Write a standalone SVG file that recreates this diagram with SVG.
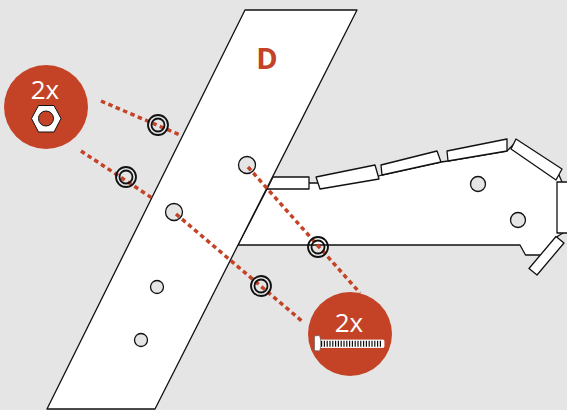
<svg xmlns="http://www.w3.org/2000/svg" width="567" height="410" viewBox="0 0 567 410">
<style>
.s{fill:#fff;stroke:#111;stroke-width:1.3;stroke-linejoin:round}
.h{fill:#e5e5e5;stroke:#111;stroke-width:1.3}
.w{fill:none;stroke:#111;stroke-width:1.800}
.d{fill:none;stroke:#c44327;stroke-width:3.500;stroke-dasharray:4.500 3.500}
.b{fill:#c44327}
.t{font-family:"Open Sans",sans-serif;font-size:26px;fill:#fff;text-anchor:middle}
</style>
<rect width="567" height="410" fill="#e5e5e5"/>
<g id="arm">
<path class="s" d="M238 245H520L525.500 255H541L558 236L563 233L562 182L556 168L516 142L507 151L448 161L441 162L382 175L379 176L320 183H300L267 189Z"/>
<polygon class="s" points="273,177 309,177 309,189 267,189"/>
<polygon class="s" points="316,177 375,165 379,179 320,189"/>
<polygon class="s" points="381,165 437,151 441,162 382,175"/>
<polygon class="s" points="447,151 507,139 507,151 448,161"/>
<polygon class="s" points="516,139 562,169 556,180 511,149"/>
<rect class="s" x="557" y="182" width="14" height="51"/>
<polygon class="s" points="556,236.500 564,243 537,275 529,268.500"/>
<circle class="h" cx="478" cy="184" r="7.500"/>
<circle class="h" cx="518" cy="220" r="7.500"/>
</g>
<g id="plate">
<polygon class="s" points="245,10 357,10 155,409 47,409"/>
<circle class="h" cx="247" cy="165" r="8.500"/>
<circle class="h" cx="174" cy="212" r="8.500"/>
<circle class="h" cx="157" cy="287" r="6.500"/>
<circle class="h" cx="141" cy="340" r="6.500"/>
<text x="267" y="69" font-family="'Open Sans',sans-serif" font-size="29" font-weight="700" fill="#c44327" text-anchor="middle">D</text>
</g>
<g id="connectors">
<line class="d" x1="101" y1="101" x2="180" y2="135"/>
<line class="d" x1="81" y1="151" x2="152" y2="198"/>
<line class="d" x1="248" y1="167" x2="360" y2="293"/>
<line class="d" x1="176" y1="214" x2="303" y2="322"/>
</g>
<g id="washers">
<circle class="w" cx="158" cy="125" r="10"/><circle class="w" cx="158" cy="125" r="6.500"/>
<circle class="w" cx="126" cy="177" r="10"/><circle class="w" cx="126" cy="177" r="6.500"/>
<circle class="w" cx="318" cy="247" r="10"/><circle class="w" cx="318" cy="247" r="6.500"/>
<circle class="w" cx="261" cy="286" r="10"/><circle class="w" cx="261" cy="286" r="6.500"/>
</g>
<g id="nut-badge">
<circle class="b" cx="46" cy="107" r="42"/>
<text class="t" x="45" y="99">2x</text>
<polygon points="31.500,118.500 38.500,105.500 54,105.500 61,118.500 54,132 38.500,132" fill="#fff" stroke="#111" stroke-width="1"/>
<circle cx="46" cy="118.500" r="7.500" fill="#c44327" stroke="#111" stroke-width="1"/>
</g>
<g id="bolt-badge">
<circle class="b" cx="350" cy="334" r="42"/>
<text class="t" x="349" y="332">2x</text>
<rect x="320" y="340" width="64" height="7.500" rx="1" fill="#fff" stroke="#fff" stroke-width="0.800"/>
<line x1="321" y1="343.700" x2="381" y2="343.700" stroke="#111" stroke-width="6" stroke-dasharray="1.200 1.600"/>
<path d="M314.500 336L319.500 335.500L320.500 339V348L319.500 351L314.500 350.500Z" fill="#fff" stroke="#555" stroke-width="0.600"/>
</g>
</svg>
